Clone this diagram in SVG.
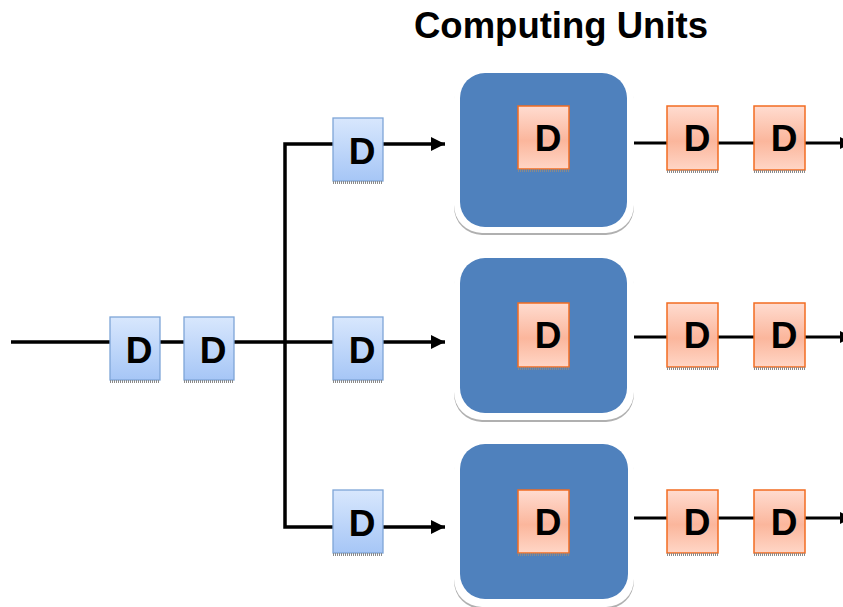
<svg xmlns="http://www.w3.org/2000/svg" width="843" height="607" viewBox="0 0 843 607">
<defs>
<linearGradient id="gb" x1="0" y1="0" x2="0" y2="1">
<stop offset="0" stop-color="#d8e7fd"/><stop offset="1" stop-color="#a6c6f6"/>
</linearGradient>
<linearGradient id="gr" x1="0" y1="0" x2="0" y2="1">
<stop offset="0" stop-color="#ffdcd0"/><stop offset="0.55" stop-color="#fbb69c"/><stop offset="1" stop-color="#ffd6c6"/>
</linearGradient>
<marker id="ah" viewBox="0 0 10 10" refX="10" refY="5" markerWidth="4" markerHeight="4" markerUnits="strokeWidth" orient="auto">
<path d="M0,0 L10,5 L0,10 z" fill="#000"/>
</marker>
</defs>
<style>
.t{font-family:"Liberation Sans",Arial,sans-serif;font-weight:bold;fill:#000}
.d{font-size:37px;text-anchor:middle}
.bb{fill:url(#gb);stroke:#7ea5d7;stroke-width:1.3}
.rb{fill:url(#gr);stroke:#f26c22;stroke-width:1.5}
.sh{stroke:#8a8a8a;stroke-width:3;stroke-dasharray:1 1}
.ln{stroke:#000;stroke-width:3.5;fill:none}
.ln2{stroke:#000;stroke-width:3;fill:none}
.cu{fill:#4f81bd}
.cw{fill:#fff}
.cs{fill:#b0b0b0}
</style>
<rect width="843" height="607" fill="#fff"/>
<text class="t" x="561" y="38" font-size="36.5" text-anchor="middle">Computing Units</text>

<g id="connectors">
<path class="ln" d="M11,342 H110 M160,342 H184 M234,342 H333"/>
<path class="ln" d="M333,144 H285 V527 H333"/>
<path class="ln" d="M383,144 H445" marker-end="url(#ah)"/>
<path class="ln" d="M383,342 H445" marker-end="url(#ah)"/>
<path class="ln" d="M383,527 H445" marker-end="url(#ah)"/>
<path class="ln2" d="M634,143 H667 M718,143 H754"/>
<path class="ln2" d="M805,143 H852" marker-end="url(#ah)"/>
<path class="ln2" d="M634,337 H667 M718,337 H754"/>
<path class="ln2" d="M805,337 H852" marker-end="url(#ah)"/>
<path class="ln2" d="M634,518 H667 M718,518 H754"/>
<path class="ln2" d="M805,518 H852" marker-end="url(#ah)"/>
</g>

<g id="cu1">
<rect class="cs" x="454" y="75" width="180" height="160" rx="28"/>
<rect class="cw" x="454" y="71" width="180" height="162" rx="28"/>
<rect class="cu" x="460" y="73" width="167" height="154" rx="25"/>
</g>
<g id="cu2">
<rect class="cs" x="454" y="260" width="180" height="162" rx="28"/>
<rect class="cw" x="454" y="256" width="180" height="164" rx="28"/>
<rect class="cu" x="460" y="258" width="167" height="155" rx="25"/>
</g>
<g id="cu3">
<rect class="cs" x="454" y="446" width="180" height="163" rx="28"/>
<rect class="cw" x="454" y="442" width="180" height="165" rx="28"/>
<rect class="cu" x="460" y="444" width="168" height="155" rx="25"/>
</g>

<g id="in1"><rect class="bb" x="110" y="317" width="50" height="63"/><line class="sh" x1="110" y1="381.5" x2="160" y2="381.5"/><text class="t d" x="139" y="363">D</text></g>
<g id="in2"><rect class="bb" x="184" y="317" width="50" height="63"/><line class="sh" x1="184" y1="381.5" x2="234" y2="381.5"/><text class="t d" x="213" y="363">D</text></g>
<g id="b1"><rect class="bb" x="333" y="118" width="50" height="63"/><line class="sh" x1="333" y1="182.5" x2="383" y2="182.5"/><text class="t d" x="362" y="164">D</text></g>
<g id="b2"><rect class="bb" x="333" y="317" width="50" height="63"/><line class="sh" x1="333" y1="381.5" x2="383" y2="381.5"/><text class="t d" x="362" y="363">D</text></g>
<g id="b3"><rect class="bb" x="333" y="490" width="50" height="63"/><line class="sh" x1="333" y1="554.5" x2="383" y2="554.5"/><text class="t d" x="362" y="536">D</text></g>

<g id="r1"><rect class="rb" x="518" y="106" width="51" height="63"/><line class="sh" x1="518" y1="170.5" x2="569" y2="170.5"/><text class="t d" x="548" y="151">D</text></g>
<g id="r2"><rect class="rb" x="518" y="303" width="51" height="64"/><line class="sh" x1="518" y1="368.5" x2="569" y2="368.5"/><text class="t d" x="548" y="348">D</text></g>
<g id="r3"><rect class="rb" x="518" y="490" width="51" height="63"/><line class="sh" x1="518" y1="554.5" x2="569" y2="554.5"/><text class="t d" x="548" y="535">D</text></g>

<g id="o1a"><rect class="rb" x="667" y="106" width="51" height="64"/><line class="sh" x1="667" y1="171.5" x2="718" y2="171.5"/><text class="t d" x="697" y="151">D</text></g>
<g id="o1b"><rect class="rb" x="754" y="106" width="51" height="64"/><line class="sh" x1="754" y1="171.5" x2="805" y2="171.5"/><text class="t d" x="784" y="151">D</text></g>
<g id="o2a"><rect class="rb" x="667" y="303" width="51" height="64"/><line class="sh" x1="667" y1="368.5" x2="718" y2="368.5"/><text class="t d" x="697" y="348">D</text></g>
<g id="o2b"><rect class="rb" x="754" y="303" width="51" height="64"/><line class="sh" x1="754" y1="368.5" x2="805" y2="368.5"/><text class="t d" x="784" y="348">D</text></g>
<g id="o3a"><rect class="rb" x="667" y="490" width="51" height="63"/><line class="sh" x1="667" y1="554.5" x2="718" y2="554.5"/><text class="t d" x="697" y="535">D</text></g>
<g id="o3b"><rect class="rb" x="754" y="490" width="51" height="63"/><line class="sh" x1="754" y1="554.5" x2="805" y2="554.5"/><text class="t d" x="784" y="535">D</text></g>
</svg>
